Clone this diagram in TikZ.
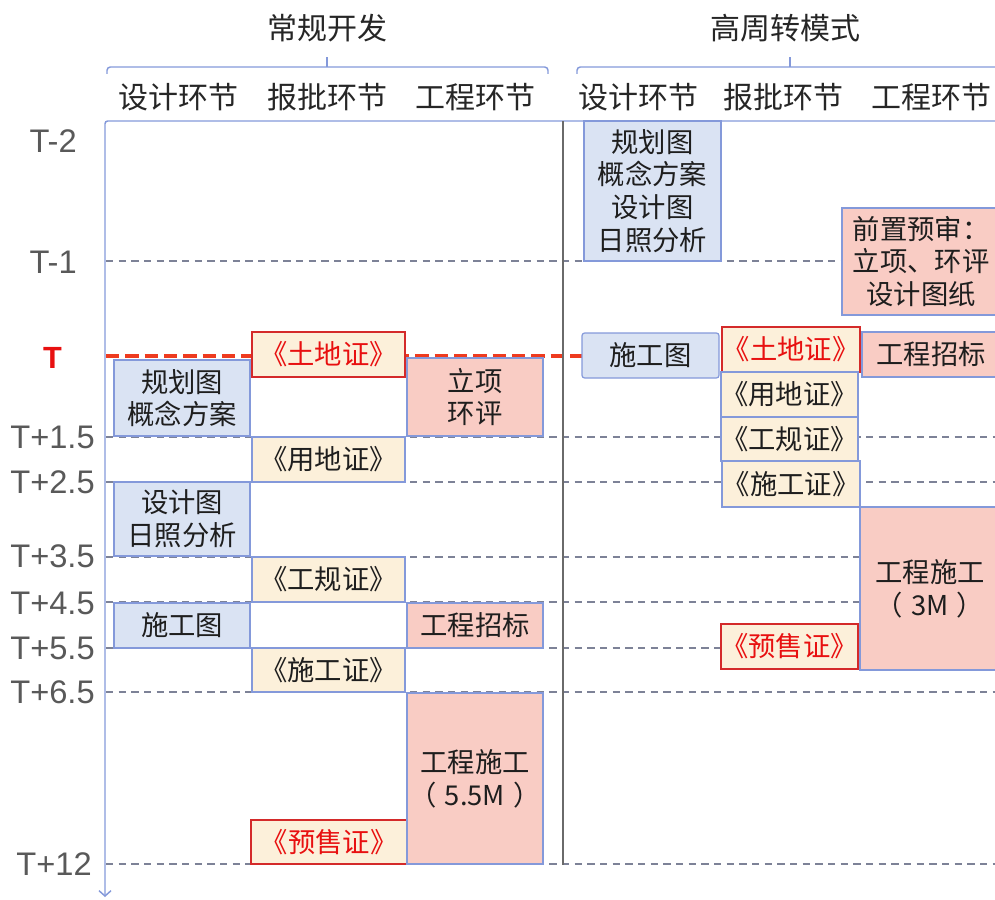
\documentclass[tikz,border=0pt]{standalone}
\usepackage{fontspec}
\setmainfont{Liberation Sans}
\newfontfamily\cjk{Noto Sans CJK SC}
\usetikzlibrary{arrows.meta}
\definecolor{bfill}{HTML}{DAE3F3}
\definecolor{bline}{HTML}{8499DA}
\definecolor{cfill}{HTML}{FCF0DA}
\definecolor{pfill}{HTML}{F9CCC4}
\definecolor{rline}{HTML}{D42A2A}
\definecolor{rtxt}{HTML}{E81010}
\definecolor{txt}{HTML}{1E1E1E}
\definecolor{htxt}{HTML}{262626}
\definecolor{axtxt}{HTML}{595959}
\definecolor{gline}{HTML}{7D8297}
\definecolor{tline}{HTML}{EE3B1F}
\definecolor{divl}{HTML}{6A6A6A}
\newcommand\bx[7]{\node[#2, minimum width={(#5-#3)*0.75pt}, minimum height={(#6-#4)*0.75pt}] (#1) at ({(#3+#5)/2},{(#4+#6)/2}) {#7};}
\tikzset{
 box/.style={draw=bline, line width=0.9pt, inner sep=0pt, outer sep=0pt, align=center, font=\cjk\fontsize{20.5}{24.5}\selectfont, text=txt},
 bluebox/.style={box, fill=bfill},
 creambox/.style={box, fill=cfill},
 redbox/.style={box, fill=cfill, draw=rline, text=rtxt},
 pinkbox/.style={box, fill=pfill},
 gridline/.style={draw=gline, dash pattern=on 5.5pt off 4pt, line width=1pt},
 tlab/.style={anchor=east, font=\fontsize{24.5}{24.5}\selectfont, text=axtxt, inner sep=0pt},
 hdr/.style={font=\cjk\fontsize{22.5}{22.5}\selectfont, text=htxt, inner sep=0pt},
 bracel/.style={draw=bline, line width=1.1pt, rounded corners=2.5pt},
}
\begin{document}
\begin{tikzpicture}[x=0.75pt,y=-0.75pt]
\useasboundingbox (0,0) rectangle (995,899);
\clip (0,0) rectangle (995,899);
% headers
\node[hdr] (h1) at (327,28) {常规开发};
\node[hdr] (h2) at (785,28) {高周转模式};
\draw[bracel] (107,74) -- (107,67) -- (548,67) -- (548,74);
\draw[bracel] (327,67) -- (327,57);
\draw[bracel] (577,74) -- (577,67) -- (1010,67);
\draw[bracel] (790,67) -- (790,57);
\node[hdr] (c11) at (178,97) {设计环节};
\node[hdr] (c12) at (327,97) {报批环节};
\node[hdr] (c13) at (475,97) {工程环节};
\node[hdr] (c21) at (638,97) {设计环节};
\node[hdr] (c22) at (783,97) {报批环节};
\node[hdr] (c23) at (931,97) {工程环节};
% axis labels
\node[tlab] (t0) at (77,141) {T-2};
\node[tlab] (t1) at (77,262) {T-1};
\node[tlab, text=rtxt, font=\bfseries\fontsize{23}{23}\selectfont] (t2) at (62,358) {T};
\node[tlab] (t3) at (95,437) {T+1.5};
\node[tlab] (t4) at (95,482) {T+2.5};
\node[tlab] (t5) at (95,556) {T+3.5};
\node[tlab] (t6) at (95,603) {T+4.5};
\node[tlab] (t7) at (95,648) {T+5.5};
\node[tlab] (t8) at (95,692) {T+6.5};
\node[tlab] (t9) at (92,864) {T+12};
% grid lines
\foreach \yy in {261,437,482,557,602,648,692,864}
  \draw[gridline] (106,\yy) -- (995,\yy);
% red T line
\draw[draw=tline, line width=3pt, dash pattern=on 10pt off 4.5pt] (106,356) -- (722,356);
% axes
\draw[draw=bline, line width=1.1pt, rounded corners=2pt, -{Straight Barb[length=4pt,width=9pt]}] (1000,121) -- (105,121) -- (105,897);
\draw[draw=divl, line width=1pt] (563,121) -- (563,865);
% left boxes
\bx{a1}{bluebox}{114}{360}{250}{436}{规划图\\概念方案}
\bx{a2}{bluebox}{114}{482}{250}{556}{设计图\\日照分析}
\bx{a3}{bluebox}{114}{603}{250}{648}{施工图}
\bx{b1}{redbox}{252}{332}{405}{377}{《土地证》}
\bx{b2}{creambox}{252}{437}{405}{482}{《用地证》}
\bx{b3}{creambox}{252}{557}{405}{602}{《工规证》}
\bx{b4}{creambox}{252}{648}{405}{692}{《施工证》}
\bx{b5}{redbox}{251}{820}{407}{864}{《预售证》}
\bx{c1}{pinkbox}{407}{358}{543}{436}{立项\\环评}
\bx{c2}{pinkbox}{407}{603}{543}{648}{工程招标}
\bx{c3}{pinkbox}{407}{693}{543}{864}{工程施工\\（\hspace{0.3em}5.5M\hspace{0.3em}）}
% right boxes
\bx{d1}{bluebox}{584}{121}{721}{261}{规划图\\概念方案\\设计图\\日照分析}
\bx{d2}{bluebox, rounded corners=2pt}{582}{333}{719}{378}{施工图}
\bx{e1}{redbox}{722}{327}{860}{372}{《土地证》}
\bx{e2}{creambox}{721}{372}{858}{417}{《用地证》}
\bx{e3}{creambox}{721}{417}{858}{461}{《工规证》}
\bx{e4}{creambox}{722}{461}{860}{507}{《施工证》}
\bx{e5}{redbox}{721}{624}{858}{669}{《预售证》}
\bx{f1}{pinkbox}{842}{208}{1000}{315}{前置预审：\\立项、环评\\设计图纸}
\bx{f2}{pinkbox}{862}{332}{1000}{377}{工程招标}
\bx{f3}{pinkbox}{860}{507}{1000}{670}{工程施工\\（\hspace{0.3em}3M\hspace{0.3em}）}
\end{tikzpicture}
\end{document}
